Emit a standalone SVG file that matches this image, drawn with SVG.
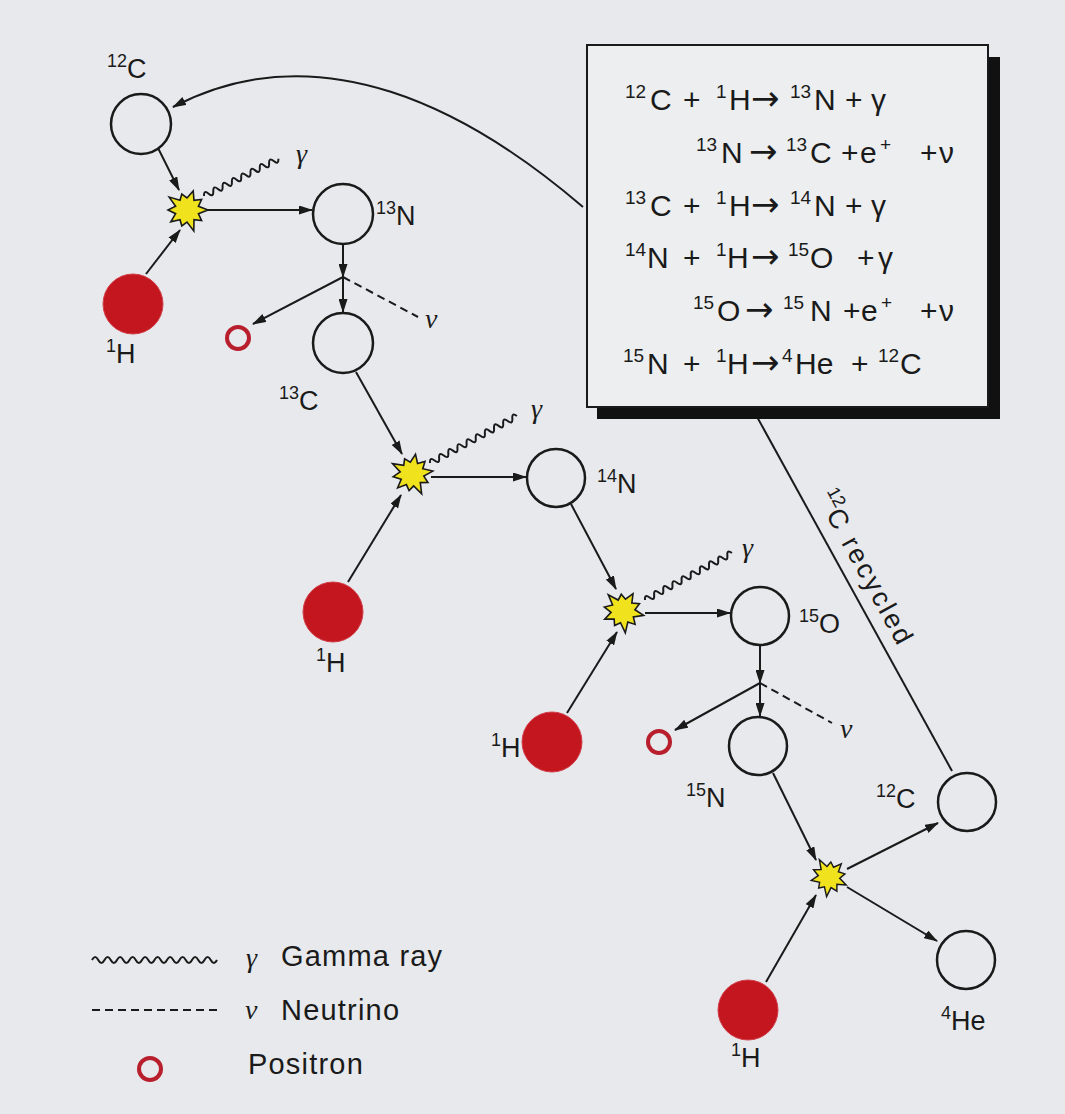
<svg xmlns="http://www.w3.org/2000/svg" width="1065" height="1114" viewBox="0 0 1065 1114">
<style>
.ln{stroke:#1a1a1a;stroke-width:2;fill:none}
.arr{marker-end:url(#ah)}
.dash{stroke-dasharray:8 5}
.wave{stroke:#1a1a1a;stroke-width:2;fill:none}
.nuc{fill:none;stroke:#1a1a1a;stroke-width:2.5}
.h{fill:#c3161f;stroke:#d2404a;stroke-width:1}
.pos{fill:none;stroke:#b81e2c;stroke-width:4}
.star{fill:#f1e21e;stroke:#1a1a1a;stroke-width:1.6;stroke-linejoin:miter}
.lbl{font-family:"Liberation Sans",Arial,sans-serif;font-size:27px;fill:#1a1a1a}
.sup{font-size:18px}
.gr{font-family:"Liberation Serif","Times New Roman",serif;font-style:italic;font-size:28px;fill:#1a1a1a}
.eq{font-family:"Liberation Sans",Arial,sans-serif;font-size:30px;fill:#1a1a1a}
.eq .sup{font-size:19px}
.ar{font-family:"DejaVu Sans",sans-serif;font-size:34px}
.leg{font-family:"Liberation Sans",Arial,sans-serif;font-size:29px;fill:#1a1a1a;letter-spacing:1.2px}
</style>
<defs>
<marker id="ah" markerWidth="14" markerHeight="9" refX="13" refY="4.5" orient="auto" markerUnits="userSpaceOnUse">
<path d="M0,0 L14,4.5 L0,9 Z" fill="#1a1a1a"/>
</marker>
<path id="starShape" class="star" d="M21,0 L11.4,3.7 L14.6,10.6 L7,9.7 L6.8,20.9 L0,12 L-5.2,16 L-7,9.7 L-16.2,11.8 L-11.4,3.7 L-19,0 L-11.4,-3.7 L-17.8,-12.9 L-7,-9.7 L-5.2,-16 L0,-12 L6.2,-19 L7,-9.7 L14.6,-10.6 L11.4,-3.7 Z"/>
<path id="wave16" class="wave" d="M0,0 q2.6,-6 5.2,0 t5.2,0 t5.2,0 t5.2,0 t5.2,0 t5.2,0 t5.2,0 t5.2,0 t5.2,0 t5.2,0 t5.2,0 t5.2,0 t5.2,0 t5.2,0 t5.2,0 t5.2,0"/>
<path id="wave19" class="wave" d="M0,0 q2.6,-6 5.2,0 t5.2,0 t5.2,0 t5.2,0 t5.2,0 t5.2,0 t5.2,0 t5.2,0 t5.2,0 t5.2,0 t5.2,0 t5.2,0 t5.2,0 t5.2,0 t5.2,0 t5.2,0 t5.2,0 t5.2,0 t5.2,0"/>
</defs>

<rect x="0" y="0" width="1065" height="1114" fill="#e7e9ec"/>

<g id="connectors">
  <path class="ln" d="M952,771 L745,395"/>
  <path class="ln arr" d="M583,207 C470,110 320,30 173,107"/>
  <line class="ln arr" x1="158" y1="148" x2="179" y2="190"/>
  <line class="ln arr" x1="146" y1="274" x2="180" y2="230"/>
  <line class="ln arr" x1="207" y1="210" x2="312" y2="210"/>
  <use href="#wave16" transform="translate(204,196) rotate(-26.6)"/>
  <line class="ln arr" x1="343" y1="245" x2="343" y2="277"/>
  <line class="ln arr" x1="343" y1="277" x2="343" y2="312"/>
  <line class="ln arr" x1="343" y1="277" x2="253" y2="324"/>
  <line class="ln dash" x1="343" y1="277" x2="418" y2="317"/>
  <line class="ln arr" x1="356" y1="372" x2="402" y2="454"/>
  <line class="ln arr" x1="348" y1="582" x2="401" y2="495"/>
  <line class="ln arr" x1="431" y1="477" x2="526" y2="477"/>
  <use href="#wave19" transform="translate(430,463) rotate(-28.4)"/>
  <line class="ln arr" x1="571" y1="504" x2="616" y2="589"/>
  <line class="ln arr" x1="567" y1="713" x2="617" y2="632"/>
  <line class="ln arr" x1="645" y1="613" x2="730" y2="613"/>
  <use href="#wave19" transform="translate(645,600) rotate(-28.4)"/>
  <line class="ln arr" x1="760" y1="646" x2="760" y2="683"/>
  <line class="ln arr" x1="760" y1="683" x2="760" y2="716"/>
  <line class="ln arr" x1="760" y1="683" x2="675" y2="730"/>
  <line class="ln dash" x1="760" y1="683" x2="832" y2="723"/>
  <line class="ln arr" x1="773" y1="773" x2="816" y2="860"/>
  <line class="ln arr" x1="766" y1="982" x2="816" y2="895"/>
  <line class="ln arr" x1="847" y1="869" x2="938" y2="823"/>
  <line class="ln arr" x1="847" y1="887" x2="937" y2="941"/>
</g>

<g id="reactions-box">
  <rect x="597" y="57" width="403" height="362" fill="#111"/>
  <rect x="587" y="45" width="401" height="362" fill="#eceef0" stroke="#1a1a1a" stroke-width="2"/>
  <text class="eq">
    <tspan class="sup" x="625" y="98">12</tspan><tspan x="650" y="110">C</tspan><tspan x="683" y="110">+</tspan><tspan class="sup" x="716" y="98">1</tspan><tspan x="729" y="110">H</tspan><tspan class="ar" x="751" y="110">→</tspan><tspan class="sup" x="790" y="98">13</tspan><tspan x="814" y="110">N</tspan><tspan x="845" y="110">+</tspan><tspan x="871" y="110">γ</tspan>
  </text>
  <text class="eq">
    <tspan class="sup" x="696" y="151">13</tspan><tspan x="721" y="163">N</tspan><tspan class="ar" x="749" y="163">→</tspan><tspan class="sup" x="786" y="151">13</tspan><tspan x="810" y="163">C</tspan><tspan x="841" y="163">+</tspan><tspan x="860" y="163">e</tspan><tspan class="sup" x="880" y="151">+</tspan><tspan x="920" y="163">+</tspan><tspan x="939" y="163">ν</tspan>
  </text>
  <text class="eq">
    <tspan class="sup" x="625" y="204">13</tspan><tspan x="650" y="216">C</tspan><tspan x="683" y="216">+</tspan><tspan class="sup" x="716" y="204">1</tspan><tspan x="729" y="216">H</tspan><tspan class="ar" x="751" y="216">→</tspan><tspan class="sup" x="790" y="204">14</tspan><tspan x="814" y="216">N</tspan><tspan x="845" y="216">+</tspan><tspan x="871" y="216">γ</tspan>
  </text>
  <text class="eq">
    <tspan class="sup" x="625" y="256">14</tspan><tspan x="647" y="268">N</tspan><tspan x="683" y="268">+</tspan><tspan class="sup" x="716" y="256">1</tspan><tspan x="727" y="268">H</tspan><tspan class="ar" x="751" y="268">→</tspan><tspan class="sup" x="788" y="256">15</tspan><tspan x="810" y="268">O</tspan><tspan x="857" y="268">+</tspan><tspan x="878" y="268">γ</tspan>
  </text>
  <text class="eq">
    <tspan class="sup" x="693" y="309">15</tspan><tspan x="717" y="321">O</tspan><tspan class="ar" x="745" y="321">→</tspan><tspan class="sup" x="783" y="309">15</tspan><tspan x="810" y="321">N</tspan><tspan x="843" y="321">+</tspan><tspan x="861" y="321">e</tspan><tspan class="sup" x="881" y="309">+</tspan><tspan x="920" y="321">+</tspan><tspan x="939" y="321">ν</tspan>
  </text>
  <text class="eq">
    <tspan class="sup" x="623" y="362">15</tspan><tspan x="647" y="374">N</tspan><tspan x="683" y="374">+</tspan><tspan class="sup" x="716" y="362">1</tspan><tspan x="727" y="374">H</tspan><tspan class="ar" x="751" y="374">→</tspan><tspan class="sup" x="782" y="362">4</tspan><tspan x="795" y="374">He</tspan><tspan x="851" y="374">+</tspan><tspan class="sup" x="878" y="362">12</tspan><tspan x="900" y="374">C</tspan>
  </text>
</g>

<text class="lbl" font-size="29" letter-spacing="2.5" transform="translate(816,497) rotate(61.3)"><tspan class="sup" dy="-12" letter-spacing="0">12</tspan><tspan dy="12">C recycled</tspan></text>

<g id="n-c12-top"><circle class="nuc" cx="141" cy="124" r="30"/><text class="lbl" x="107" y="78"><tspan class="sup" dy="-11">12</tspan><tspan dy="11">C</tspan></text></g>
<g id="n-h1-a"><circle class="h" cx="133" cy="304" r="30"/><text class="lbl" x="106" y="363"><tspan class="sup" dy="-11">1</tspan><tspan dy="11">H</tspan></text></g>
<g id="r-1"><use href="#starShape" transform="translate(187,210)"/><text class="gr" x="296" y="163">γ</text></g>
<g id="n-n13"><circle class="nuc" cx="343" cy="214" r="30"/><text class="lbl" x="376" y="225"><tspan class="sup" dy="-11">13</tspan><tspan dy="11">N</tspan></text></g>
<g id="p-1"><circle class="pos" cx="238" cy="338" r="11"/><text class="gr" x="425" y="328">ν</text></g>
<g id="n-c13"><circle class="nuc" cx="343" cy="343" r="30"/><text class="lbl" x="279" y="410"><tspan class="sup" dy="-11">13</tspan><tspan dy="11">C</tspan></text></g>
<g id="n-h1-b"><circle class="h" cx="333" cy="612" r="30"/><text class="lbl" x="316" y="672"><tspan class="sup" dy="-11">1</tspan><tspan dy="11">H</tspan></text></g>
<g id="r-2"><use href="#starShape" transform="translate(412,474) rotate(-8)"/><text class="gr" x="531" y="418">γ</text></g>
<g id="n-n14"><circle class="nuc" cx="556" cy="478" r="29"/><text class="lbl" x="597" y="493"><tspan class="sup" dy="-11">14</tspan><tspan dy="11">N</tspan></text></g>
<g id="n-h1-c"><circle class="h" cx="552" cy="742" r="30"/><text class="lbl" x="491" y="757"><tspan class="sup" dy="-11">1</tspan><tspan dy="11">H</tspan></text></g>
<g id="r-3"><use href="#starShape" transform="translate(623,611) rotate(12)"/><text class="gr" x="742" y="557">γ</text></g>
<g id="n-o15"><circle class="nuc" cx="760" cy="616" r="29"/><text class="lbl" x="799" y="633"><tspan class="sup" dy="-11">15</tspan><tspan dy="11">O</tspan></text></g>
<g id="p-2"><circle class="pos" cx="659" cy="742" r="11"/><text class="gr" x="840" y="738">ν</text></g>
<g id="n-n15"><circle class="nuc" cx="758" cy="746" r="29"/><text class="lbl" x="686" y="807"><tspan class="sup" dy="-11">15</tspan><tspan dy="11">N</tspan></text></g>
<g id="r-4"><use href="#starShape" transform="translate(829,877) rotate(25) scale(0.9)"/></g>
<g id="n-h1-d"><circle class="h" cx="748" cy="1010" r="30"/><text class="lbl" x="731" y="1067"><tspan class="sup" dy="-11">1</tspan><tspan dy="11">H</tspan></text></g>
<g id="n-c12-bottom"><circle class="nuc" cx="967" cy="802" r="29"/><text class="lbl" x="876" y="808"><tspan class="sup" dy="-11">12</tspan><tspan dy="11">C</tspan></text></g>
<g id="n-he4"><circle class="nuc" cx="966" cy="960" r="29"/><text class="lbl" x="941" y="1030"><tspan class="sup" dy="-11">4</tspan><tspan dy="11">He</tspan></text></g>

<g id="legend">
  <path class="wave" d="M92,960 q3.1,-6 6.25,0 t6.25,0 t6.25,0 t6.25,0 t6.25,0 t6.25,0 t6.25,0 t6.25,0 t6.25,0 t6.25,0 t6.25,0 t6.25,0 t6.25,0 t6.25,0 t6.25,0 t6.25,0 t6.25,0 t6.25,0 t6.25,0 t6.25,0"/>
  <text class="gr" x="246" y="967">γ</text>
  <text class="leg" x="281" y="966">Gamma ray</text>
  <line class="ln dash" x1="92" y1="1010" x2="217" y2="1010" stroke-dasharray="11 5"/>
  <text class="gr" x="245" y="1019">ν</text>
  <text class="leg" x="281" y="1020">Neutrino</text>
  <circle class="pos" cx="150" cy="1069" r="11"/>
  <text class="leg" x="248" y="1074">Positron</text>
</g>
</svg>
